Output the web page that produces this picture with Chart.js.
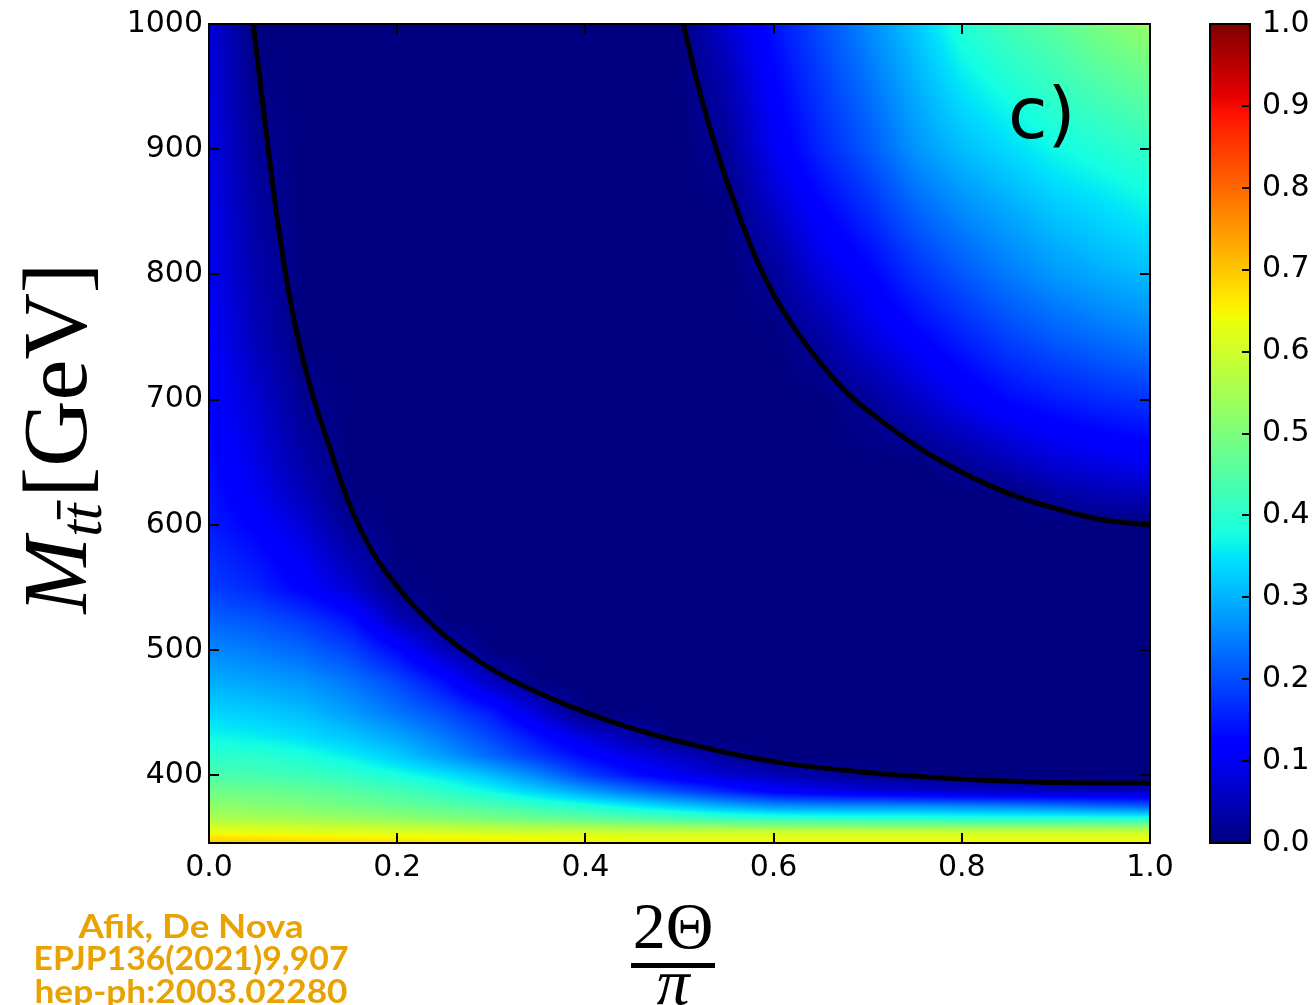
<!DOCTYPE html>
<html>
<head>
<meta charset="utf-8">
<script src="https://cdn.jsdelivr.net/npm/chart.js@4.4.1/dist/chart.umd.min.js"></script>
<style>
  html, body { margin: 0; padding: 0; background: #fff; }
  #wrap { position: relative; width: 1313px; height: 1005px; overflow: hidden; }
</style>
</head>
<body>
<div id="wrap"><canvas id="grafica" width="1313" height="1005"></canvas></div>
<script>
// columnas del mapa: 2Θ/π
const xCols = [0, 0.05, 0.1, 0.15, 0.2, 0.25, 0.3, 0.35, 0.4, 0.45, 0.5, 0.55, 0.6, 0.65, 0.7, 0.75, 0.8, 0.85, 0.9, 0.95, 1.0];
// filas del mapa: M_tt en GeV (de abajo hacia arriba)
const massRows = [346, 355, 365, 375, 387, 400, 415, 430, 450, 475, 500, 525, 550, 600, 625, 650, 700, 750, 800, 850, 900, 950, 1000];
const zValues = [
  [0.7,0.695,0.69,0.685,0.68,0.675,0.67,0.665,0.66,0.655,0.655,0.655,0.655,0.655,0.655,0.655,0.655,0.655,0.655,0.655,0.655],  // 346
  [0.635,0.63,0.625,0.62,0.615,0.61,0.605,0.6,0.6,0.595,0.595,0.595,0.595,0.595,0.595,0.595,0.595,0.595,0.595,0.595,0.595],   // 355
  [0.56,0.555,0.55,0.54,0.53,0.515,0.5,0.485,0.47,0.455,0.44,0.425,0.415,0.41,0.405,0.405,0.4,0.4,0.4,0.4,0.4],               // 365
  [0.525,0.515,0.505,0.49,0.475,0.46,0.44,0.415,0.39,0.36,0.33,0.3,0.275,0.27,0.27,0.27,0.265,0.26,0.25,0.235,0.225],         // 375
  [0.485,0.48,0.47,0.455,0.435,0.405,0.37,0.33,0.285,0.24,0.2,0.16,0.12,0.1,0.085,0.075,0.065,0.06,0.055,0.055,0.055],        // 387
  [0.44,0.435,0.425,0.405,0.38,0.35,0.31,0.255,0.19,0.14,0.1,0.07,0.05,0.03,0.012,0,0,0,0,0,0],                               // 400
  [0.405,0.4,0.385,0.36,0.325,0.28,0.23,0.18,0.13,0.09,0.06,0.025,0,0,0,0,0,0,0,0,0],                                         // 415
  [0.37,0.36,0.345,0.32,0.29,0.245,0.195,0.14,0.085,0.04,0,0,0,0,0,0,0,0,0,0,0],                                              // 430
  [0.335,0.325,0.31,0.28,0.24,0.2,0.15,0.075,0,0,0,0,0,0,0,0,0,0,0,0,0],                                                      // 450
  [0.295,0.285,0.27,0.24,0.195,0.135,0.055,0,0,0,0,0,0,0,0,0,0,0,0,0,0],                                                      // 475
  [0.26,0.245,0.225,0.19,0.13,0.05,0,0,0,0,0,0,0,0,0,0,0,0,0,0,0],                                                            // 500
  [0.22,0.205,0.18,0.14,0.05,0,0,0,0,0,0,0,0,0,0,0,0,0,0,0,0],                                                                // 525
  [0.185,0.16,0.12,0.07,0.005,0,0,0,0,0,0,0,0,0,0,0,0,0,0,0,0],                                                               // 550
  [0.15,0.12,0.075,0.015,0,0,0,0,0,0,0,0,0,0,0,0,0,0,0,0,0],                                                                  // 600
  [0.142,0.1,0.05,0,0,0,0,0,0,0,0,0,0,0,0,0,0,0,0.03,0.045,0.055],                                                            // 625
  [0.135,0.088,0.035,0,0,0,0,0,0,0,0,0,0,0,0,0,0.02,0.05,0.075,0.09,0.1],                                                     // 650
  [0.12,0.07,0.015,0,0,0,0,0,0,0,0,0,0,0,0.02,0.06,0.1,0.13,0.15,0.165,0.175],                                                // 700
  [0.11,0.05,0,0,0,0,0,0,0,0,0,0,0,0.03,0.08,0.12,0.155,0.19,0.215,0.235,0.25],                                               // 750
  [0.1,0.04,0,0,0,0,0,0,0,0,0,0,0.02,0.08,0.12,0.17,0.21,0.245,0.275,0.295,0.31],                                             // 800
  [0.095,0.03,0,0,0,0,0,0,0,0,0,0,0.06,0.12,0.165,0.22,0.26,0.29,0.32,0.34,0.36],                                             // 850
  [0.09,0.02,0,0,0,0,0,0,0,0,0,0.02,0.1,0.16,0.21,0.27,0.31,0.34,0.37,0.39,0.41],                                             // 900
  [0.085,0.008,0,0,0,0,0,0,0,0,0,0.04,0.12,0.18,0.235,0.295,0.35,0.385,0.415,0.445,0.47],                                     // 950
  [0.08,0,0,0,0,0,0,0,0,0,0,0.07,0.14,0.2,0.26,0.32,0.39,0.43,0.46,0.5,0.53]                                                  // 1000
];
// curvas de nivel (linea negra)
const contourLowX = [0.047, 0.055, 0.063, 0.072, 0.085, 0.1, 0.115, 0.13, 0.15, 0.175, 0.21, 0.25, 0.3, 0.35, 0.42, 0.49, 0.6, 0.72, 0.83, 0.95, 1.0];
const contourLowM = [1000, 950, 900, 848, 785, 732, 692, 658, 615, 577, 542, 512, 485, 466, 445, 429, 411, 401, 396, 394, 394];
const contourHighX = [0.504, 0.52, 0.54, 0.56, 0.58, 0.6, 0.625, 0.65, 0.68, 0.72, 0.76, 0.8, 0.85, 0.9, 0.95, 1.0];
const contourHighM = [1000, 950, 898, 854, 815, 784, 754, 729, 704, 680, 659, 642, 625, 613, 604, 600];
// marcas de los ejes
const xTicks = [0, 0.2, 0.4, 0.6, 0.8, 1.0];
const yTicks = [400, 500, 600, 700, 800, 900, 1000];
const cbTicks = [0, 0.1, 0.2, 0.3, 0.4, 0.5, 0.6, 0.7, 0.8, 0.9, 1.0];

// paleta jet (igual que matplotlib)
const jetR = [[0, 0], [0.35, 0], [0.66, 1], [0.89, 1], [1, 0.5]];
const jetG = [[0, 0], [0.125, 0], [0.375, 1], [0.64, 1], [0.91, 0], [1, 0]];
const jetB = [[0, 0.5], [0.11, 1], [0.34, 1], [0.65, 0], [1, 0]];
function tramo(seg, v) {
  for (let k = 1; k < seg.length; k++) {
    if (v <= seg[k][0]) {
      const a = seg[k - 1], b = seg[k];
      return a[1] + (b[1] - a[1]) * (v - a[0]) / (b[0] - a[0]);
    }
  }
  return seg[seg.length - 1][1];
}
function jet(v) {
  v = Math.min(1, Math.max(0, v));
  return [tramo(jetR, v), tramo(jetG, v), tramo(jetB, v)].map((c) => Math.round(c * 255));
}
const LUT = [];
for (let k = 0; k <= 1000; k++) LUT.push(jet(k / 1000));

function celda(arr, v) {
  let i = 0;
  while (i < arr.length - 2 && v > arr[i + 1]) i++;
  let s = (v - arr[i]) / (arr[i + 1] - arr[i]);
  s = Math.min(1, Math.max(0, s));
  return [i, s];
}

//dibuja el mapa de color debajo de las curvas
const mapaCalor = {
  id: "mapaCalor",
  beforeDatasetsDraw(chart) {
    const { ctx, chartArea: a, scales } = chart;
    const w = Math.round(a.right - a.left), h = Math.round(a.bottom - a.top);
    const img = ctx.createImageData(w, h);
    const ci = new Int32Array(w), cs = new Float32Array(w);
    for (let px = 0; px < w; px++) {
      const [i, s] = celda(xCols, scales.x.getValueForPixel(a.left + px + 0.5));
      ci[px] = i; cs[px] = s;
    }
    for (let py = 0; py < h; py++) {
      const [j, t] = celda(massRows, scales.y.getValueForPixel(a.top + py + 0.5));
      const r0 = zValues[j], r1 = zValues[j + 1];
      for (let px = 0; px < w; px++) {
        const i = ci[px], s = cs[px];
        const v = (1 - t) * ((1 - s) * r0[i] + s * r0[i + 1]) + t * ((1 - s) * r1[i] + s * r1[i + 1]);
        const c = LUT[Math.round(Math.min(1, Math.max(0, v)) * 1000)];
        const k = (py * w + px) * 4;
        img.data[k] = c[0]; img.data[k + 1] = c[1]; img.data[k + 2] = c[2]; img.data[k + 3] = 255;
      }
    }
    ctx.putImageData(img, Math.round(a.left), Math.round(a.top));
  }
};

//marco, marcas, barra de color y textos
const adornos = {
  id: "adornos",
  afterDraw(chart) {
    const { ctx, chartArea: a, scales } = chart;
    ctx.save();
    ctx.strokeStyle = "#000";
    ctx.lineWidth = 2;
    ctx.strokeRect(a.left, a.top, a.right - a.left, a.bottom - a.top);
    ctx.beginPath();
    xTicks.forEach((v) => {
      const p = Math.round(scales.x.getPixelForValue(v));
      ctx.moveTo(p, a.bottom); ctx.lineTo(p, a.bottom - 10);
      ctx.moveTo(p, a.top); ctx.lineTo(p, a.top + 10);
    });
    yTicks.forEach((v) => {
      const p = Math.round(scales.y.getPixelForValue(v));
      ctx.moveTo(a.left, p); ctx.lineTo(a.left + 10, p);
      ctx.moveTo(a.right, p); ctx.lineTo(a.right - 10, p);
    });
    ctx.stroke();

    // barra de color
    const cb = scales.cb;
    const x0 = 1210, x1 = 1250;
    const yTop = cb.getPixelForValue(1), yBot = cb.getPixelForValue(0);
    const grad = ctx.createLinearGradient(0, yBot, 0, yTop);
    for (let k = 0; k <= 100; k++) {
      const c = jet(k / 100);
      grad.addColorStop(k / 100, `rgb(${c[0]},${c[1]},${c[2]})`);
    }
    ctx.fillStyle = grad;
    ctx.fillRect(x0, yTop, x1 - x0, yBot - yTop);
    ctx.strokeRect(x0, yTop, x1 - x0, yBot - yTop);
    ctx.beginPath();
    cbTicks.forEach((v) => {
      const p = Math.round(cb.getPixelForValue(v));
      ctx.moveTo(x1, p); ctx.lineTo(x1 - 8, p);
    });
    ctx.stroke();

    // etiqueta del panel
    ctx.fillStyle = "#000";
    ctx.font = "72px 'DejaVu Sans'";
    ctx.textAlign = "left";
    ctx.textBaseline = "alphabetic";
    ctx.fillText("c)", 1008, 138);

    // titulo eje y: M_tt [GeV]
    ctx.save();
    ctx.translate(86, 438);
    ctx.rotate(-Math.PI / 2);
    const fM = "italic 92px 'Liberation Serif'";
    const fSub = "italic 60px 'Liberation Serif'";
    const fGev = "92px 'Liberation Serif'";
    ctx.font = fM; const wM = ctx.measureText("M").width;
    ctx.font = fSub; const wT = ctx.measureText("t").width;
    ctx.font = fGev; const wG = ctx.measureText("[GeV]").width;
    const total = wM + 2 * wT + 6 + wG;
    let tx = -total / 2;
    ctx.font = fM; ctx.fillText("M", tx, 0); tx += wM;
    ctx.font = fSub;
    ctx.fillText("t", tx, 15); tx += wT;
    ctx.fillText("t", tx, 15);
    ctx.fillRect(tx + 1, 15 - 44, wT + 2, 3.5);
    tx += wT + 6;
    ctx.font = fGev; ctx.fillText("[GeV]", tx, 0);
    ctx.restore();

    // titulo eje x: 2Θ/π
    ctx.textAlign = "center";
    ctx.font = "66px 'Liberation Serif'";
    ctx.fillText("2\u0398", 673, 948);
    ctx.fillRect(631, 963, 84, 5);
    ctx.font = "italic 66px 'Liberation Serif'";
    ctx.fillText("\u03c0", 673, 1004);

    // referencia
    const refs = ["Afik, De Nova", "EPJP136(2021)9,907", "hep-ph:2003.02280"];
    const refW = [225, 315, 313];
    const refY = [938, 970, 1003];
    ctx.fillStyle = "#E8A202";
    ctx.font = "bold 33px Lato";
    refs.forEach((t, k) => {
      const m = ctx.measureText(t).width;
      ctx.save();
      ctx.translate(191, refY[k]);
      ctx.scale(refW[k] / m, 1);
      ctx.fillText(t, 0, 0);
      ctx.restore();
    });
    ctx.restore();
  }
};

const tickFont = { family: "'DejaVu Sans'", size: 30 };
const lineas = [
  { x: contourLowX, m: contourLowM },
  { x: contourHighX, m: contourHighM }
];

new Chart(document.getElementById("grafica"), {
  type: "scatter",
  data: {
    datasets: lineas.map((l) => ({
      data: l.x.map((x, i) => ({ x: x, y: l.m[i] })),
      showLine: true,
      borderColor: "#000",
      borderWidth: 5,
      pointRadius: 0,
      cubicInterpolationMode: "monotone",
      clip: 0
    }))
  },
  options: {
    responsive: false,
    animation: false,
    devicePixelRatio: 1,
    layout: { padding: { top: 23, left: 0, right: 0, bottom: 0 } },
    plugins: { legend: { display: false }, tooltip: { enabled: false } },
    scales: {
      x: {
        type: "linear", position: "bottom", min: 0, max: 1,
        grid: { display: false, drawTicks: false }, border: { display: false },
        ticks: { color: "#000", font: tickFont, padding: 7, maxRotation: 0, callback: (v) => Number(v).toFixed(1) },
        afterBuildTicks: (s) => { s.ticks = xTicks.map((v) => ({ value: v })); },
        afterFit: (s) => { s.height = 162; }
      },
      y: {
        type: "linear", position: "left", min: 346, max: 1000,
        grid: { display: false, drawTicks: false }, border: { display: false },
        ticks: { color: "#000", font: tickFont, padding: 6, callback: (v) => String(v) },
        afterBuildTicks: (s) => { s.ticks = yTicks.map((v) => ({ value: v })); },
        afterFit: (s) => { s.width = 209; }
      },
      cb: {
        type: "linear", position: "right", min: 0, max: 1,
        grid: { display: true, drawOnChartArea: false, drawTicks: true, tickLength: 110, color: "rgba(0,0,0,0)" },
        border: { display: false },
        ticks: { color: "#000", font: tickFont, padding: 2, callback: (v) => Number(v).toFixed(1) },
        afterBuildTicks: (s) => { s.ticks = cbTicks.map((v) => ({ value: v })); },
        afterFit: (s) => { s.width = 163; }
      }
    }
  },
  plugins: [mapaCalor, adornos]
});
</script>
</body>
</html>
